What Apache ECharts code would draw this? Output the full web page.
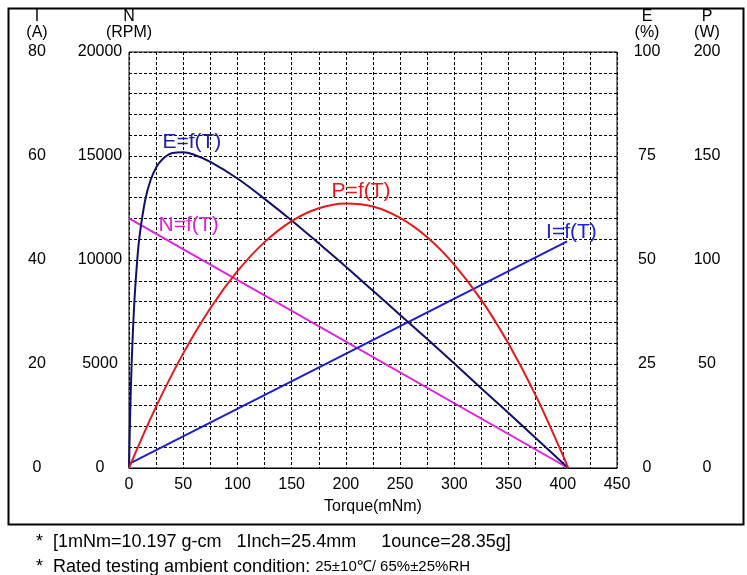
<!DOCTYPE html>
<html>
<head>
<meta charset="utf-8">
<script src="https://cdn.jsdelivr.net/npm/echarts@6/dist/echarts.min.js"></script>
<style>
  html, body { margin: 0; padding: 0; background: #fff; }
  #chart-container { width: 747px; height: 575px; }
</style>
</head>
<body>
<div id="chart-container"></div>
<script>
var dom = document.getElementById("chart-container");
var myChart = echarts.init(dom, null, { renderer: "canvas" });

// speed N (RPM) vs torque
var nTorque = [0, 405];
var nSpeed = [12000, 0];

// current I (A) vs torque
var iTorque = [0, 404];
var iCurrent = [0.8, 43.6];

// output power P (W) vs torque
var pTorque = [0, 25, 50, 75, 100, 125, 150, 175, 200, 225, 250, 275, 300, 325, 350, 375, 400, 405];
var pPower = [0, 29.5, 55.1, 76.8, 94.6, 108.6, 118.7, 124.9, 127.2, 125.7, 120.2, 110.9, 97.7, 80.7, 59.7, 34.9, 6.2, 0];

// efficiency E (%) vs torque
var eTorque = [0, 1, 2, 3, 5, 7.5, 10, 15, 20, 25, 30, 40, 50, 60, 75, 100, 125, 150, 175, 200, 225, 250, 275, 300, 325, 350, 375, 400, 405];
var eEff = [0, 12.1, 21.5, 29.0, 40.2, 49.7, 56.3, 64.5, 69.3, 72.2, 74.0, 75.7, 75.9, 75.3, 73.6, 69.6, 64.7, 59.5, 54.0, 48.4, 42.6, 36.8, 31.0, 25.1, 19.1, 13.2, 7.2, 1.2, 0];

function pairs(xs, ys) {
  return xs.map(function (x, i) { return [x, ys[i]]; });
}

var FONT = "Liberation Sans";
var tickFont = { color: "#000", fontSize: 16, fontFamily: FONT, padding: [4, 0, 0, 0] };

function sideAxis(name, max, interval, position, offset) {
  return {
    type: "value",
    name: name,
    position: position,
    offset: offset,
    min: 0,
    max: max,
    interval: interval,
    nameLocation: "end",
    nameGap: 11,
    nameTextStyle: { color: "#000", fontSize: 16, fontFamily: FONT, align: "center", lineHeight: 16 },
    axisLine: { show: false },
    axisTick: { show: false },
    splitLine: { show: false },
    axisLabel: Object.assign({ margin: 0, align: "center" }, tickFont)
  };
}

function curveLabel(text, color, coord) {
  return {
    symbol: "circle",
    symbolSize: 0,
    label: {
      show: true,
      position: "inside",
      formatter: text,
      color: color,
      fontSize: 21,
      fontFamily: FONT
    },
    data: [{ coord: coord }]
  };
}

var option = {
  animation: false,
  backgroundColor: "#fff",
  grid: {
    left: 129, right: 130, top: 52, bottom: 107,
    show: true, borderColor: "#000", borderWidth: 1
  },
  xAxis: {
    type: "value",
    min: 0,
    max: 450,
    interval: 25,
    name: "Torque(mNm)",
    nameLocation: "middle",
    nameGap: 31,
    nameTextStyle: { color: "#000", fontSize: 16, fontFamily: FONT },
    axisLine: { show: true, lineStyle: { color: "#000" } },
    axisTick: { show: false },
    splitLine: { show: true, lineStyle: { color: "#000", type: [3, 2], width: 1 } },
    axisLabel: Object.assign({
      margin: 5,
      formatter: function (v) { return v % 50 === 0 ? v : ""; }
    }, tickFont)
  },
  yAxis: [
    // N axis also carries the dashed grid (20 rows)
    Object.assign(sideAxis("N\n(RPM)", 20000, 1000, "left", 29), {
      splitLine: { show: true, lineStyle: { color: "#000", type: [3, 2], width: 1 } },
      axisLabel: Object.assign({
        margin: 0, align: "center",
        formatter: function (v) { return v % 5000 === 0 ? v : ""; }
      }, tickFont)
    }),
    sideAxis("I\n(A)", 80, 20, "left", 92),
    sideAxis("E\n(%)", 100, 25, "right", 30),
    sideAxis("P\n(W)", 200, 50, "right", 90)
  ],
  graphic: [
    {
      type: "rect",
      left: 6, top: 6,
      shape: { width: 735, height: 516 },
      style: { fill: null, stroke: "#000", lineWidth: 2 },
      z: 0
    },
    {
      type: "text",
      left: 36, top: 533,
      style: {
        text: "*  [1mNm=10.197 g-cm   1Inch=25.4mm     1ounce=28.35g]",
        fill: "#000", fontSize: 18, fontFamily: FONT
      }
    },
    {
      type: "text",
      left: 36, top: 558,
      style: {
        text: "{a|*  Rated testing ambient condition: }{b|25±10℃/ 65%±25%RH}",
        rich: {
          a: { fill: "#000", fontSize: 18, fontFamily: FONT },
          b: { fill: "#000", fontSize: 15, fontFamily: FONT }
        }
      }
    }
  ],
  series: [
    {
      name: "N=f(T)", type: "line", yAxisIndex: 0,
      data: pairs(nTorque, nSpeed), showSymbol: false,
      lineStyle: { color: "#e020e0", width: 2 },
      markPoint: curveLabel("N=f(T)", "#e020e0", [55, 11650])
    },
    {
      name: "I=f(T)", type: "line", yAxisIndex: 1,
      data: pairs(iTorque, iCurrent), showSymbol: false,
      lineStyle: { color: "#1c1cd8", width: 2 },
      markPoint: curveLabel("I=f(T)", "#2020e0", [408, 45.4])
    },
    {
      name: "E=f(T)", type: "line", yAxisIndex: 2,
      data: pairs(eTorque, eEff), showSymbol: false,
      smooth: 0.4,
      lineStyle: { color: "#10106a", width: 2 },
      markPoint: curveLabel("E=f(T)", "#2020a8", [58, 78.4])
    },
    {
      name: "P=f(T)", type: "line", yAxisIndex: 3,
      data: pairs(pTorque, pPower), showSymbol: false,
      smooth: 0.4,
      lineStyle: { color: "#e81818", width: 2 },
      markPoint: curveLabel("P=f(T)", "#e81818", [214, 133])
    }
  ]
};

myChart.setOption(option);
window.addEventListener("resize", myChart.resize);
</script>
</body>
</html>
